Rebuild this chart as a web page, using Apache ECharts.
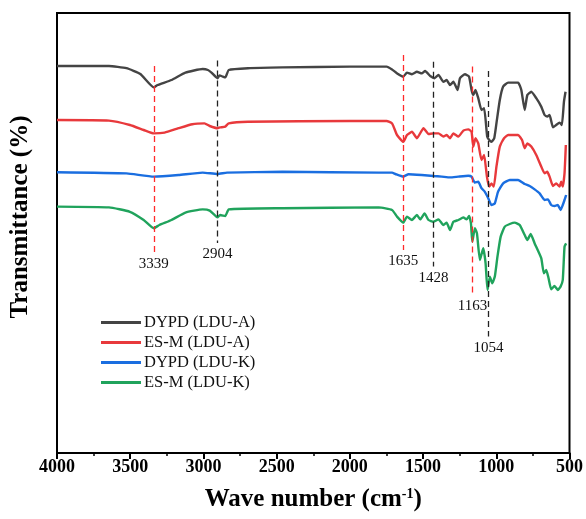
<!DOCTYPE html>
<html>
<head>
<meta charset="utf-8">
<script src="https://cdn.jsdelivr.net/npm/echarts@6/dist/echarts.min.js"></script>
<style>
  html, body { margin: 0; padding: 0; background: #fff; }
  #chart { width: 586px; height: 519px; }
</style>
</head>
<body>
<div id="chart"></div>
<script>
// FTIR spectra: [wavenumber (cm-1), transmittance (offset, a.u.)]
const dypdA = [
  [4000, 96.75], [3800, 96.75], [3645, 96.75], [3526, 96.2], [3431, 94.75], [3339, 91.4],
  [3313, 92.0], [3218, 93.25], [3123, 95.1], [3005, 96.0], [2969, 95.75], [2945, 95.1],
  [2904, 93.7], [2890, 94.4], [2868, 94.1], [2850, 93.9], [2827, 95.75], [2696, 96.2],
  [2460, 96.4], [2000, 96.6], [1803, 96.6], [1749, 96.6], [1712, 95.9], [1677, 94.9],
  [1635, 94.1], [1610, 95.1], [1576, 94.7], [1542, 95.3], [1509, 94.9], [1486, 95.5],
  [1451, 94.25], [1422, 93.7], [1395, 94.5], [1361, 92.8], [1339, 93.25], [1316, 92.0],
  [1293, 92.8], [1264, 90.75], [1248, 93.7], [1214, 94.7], [1186, 94.1], [1169, 90.75],
  [1157, 89.5], [1142, 90.75], [1123, 88.7], [1101, 85.75], [1083, 86.2], [1062, 79.1],
  [1048, 78.25], [1033, 77.8], [1014, 78.7], [999, 82.4], [976, 88.25], [953, 91.6],
  [919, 92.6], [851, 92.6], [829, 90.75], [806, 85.75], [788, 89.5], [761, 90.3],
  [727, 88.7], [693, 86.6], [670, 84.5], [652, 84.1], [636, 84.5], [613, 81.4],
  [591, 82.0], [568, 82.6], [552, 82.0], [538, 87.8], [527, 90.3]
];
const esmA = [
  [4000, 83.25], [3645, 83.1], [3502, 82.0], [3408, 80.75], [3339, 79.9], [3265, 80.1],
  [3170, 81.2], [3076, 82.2], [2993, 82.4], [2957, 81.75], [2904, 81.2], [2886, 81.4],
  [2851, 81.6], [2827, 82.4], [2696, 82.8], [2000, 83.0], [1749, 83.0], [1712, 82.4],
  [1678, 79.5], [1635, 77.8], [1610, 79.5], [1576, 80.3], [1542, 78.7], [1497, 81.2],
  [1463, 79.75], [1429, 79.9], [1395, 79.9], [1361, 79.1], [1339, 79.5], [1316, 78.7],
  [1293, 79.9], [1259, 79.1], [1225, 80.6], [1191, 80.9], [1169, 80.3], [1157, 76.6],
  [1142, 78.7], [1123, 77.4], [1101, 73.25], [1083, 74.5], [1064, 69.1], [1048, 66.6],
  [1033, 67.4], [1017, 66.6], [999, 71.6], [976, 76.6], [947, 78.7], [919, 79.5],
  [851, 79.5], [824, 78.25], [806, 76.2], [788, 77.4], [761, 76.6], [727, 74.5],
  [693, 71.6], [670, 69.9], [652, 70.3], [636, 69.1], [613, 66.75], [591, 67.4],
  [568, 66.6], [557, 67.8], [546, 66.6], [534, 69.9], [525, 77.0]
];
const dypdK = [
  [4000, 70.2], [3526, 69.9], [3339, 69.1], [3170, 69.5], [3005, 70.1], [2904, 69.75],
  [2839, 70.1], [2460, 70.3], [1803, 70.1], [1712, 70.1], [1689, 69.75], [1635, 69.1],
  [1599, 69.7], [1509, 69.5], [1429, 69.25], [1372, 69.1], [1316, 68.9], [1259, 69.1],
  [1191, 69.3], [1169, 69.1], [1146, 67.6], [1123, 67.8], [1101, 66.2], [1078, 65.3],
  [1055, 63.7], [1033, 62.0], [1010, 62.4], [988, 65.3], [953, 67.4], [908, 68.25],
  [851, 68.25], [806, 67.25], [772, 66.75], [738, 65.9], [704, 64.9], [670, 63.25],
  [647, 63.4], [625, 62.0], [602, 61.75], [580, 62.0], [561, 60.75], [546, 62.0],
  [534, 63.25], [523, 64.5]
];
const esmK = [
  [4000, 61.6], [3645, 61.4], [3502, 60.3], [3408, 58.25], [3339, 56.2], [3301, 57.0],
  [3218, 58.25], [3123, 60.1], [3005, 60.9], [2957, 60.6], [2904, 58.9], [2886, 59.5],
  [2851, 59.25], [2827, 60.9], [2460, 61.2], [1803, 61.4], [1712, 60.75], [1678, 59.1],
  [1635, 57.6], [1610, 59.1], [1576, 58.25], [1542, 59.5], [1519, 58.4], [1490, 59.9],
  [1463, 58.25], [1429, 57.8], [1395, 58.4], [1361, 57.0], [1339, 57.6], [1316, 55.75],
  [1293, 57.8], [1259, 58.25], [1225, 58.9], [1203, 58.4], [1186, 59.25], [1173, 57.4],
  [1164, 52.8], [1146, 56.2], [1132, 54.9], [1112, 48.25], [1089, 51.2], [1073, 47.4],
  [1060, 40.75], [1044, 44.1], [1028, 42.4], [1010, 44.1], [992, 49.1], [970, 54.1],
  [942, 56.6], [908, 57.25], [874, 57.6], [840, 57.0], [806, 54.5], [788, 53.25],
  [765, 54.75], [738, 52.4], [693, 48.7], [675, 44.9], [659, 45.75], [643, 43.7],
  [625, 40.9], [602, 41.75], [580, 40.75], [561, 41.6], [546, 43.25], [534, 51.6],
  [523, 52.4]
];

const seriesNames = ['DYPD (LDU-A)', 'ES-M (LDU-A)', 'DYPD (LDU-K)', 'ES-M (LDU-K)'];
const seriesColors = ['#444444', '#e8393c', '#1a6ee0', '#20a35c'];

// Marked bands: wavenumber, guide top/bottom (transmittance units), dash colour
const peakWn = [3339, 2904, 1635, 1428, 1163, 1054];
const peakTop = [96.75, 98.1, 99.5, 97.8, 96.6, 95.5];
const peakBottom = [50, 52.5, 50.75, 46.6, 39.5, 29.1];
const peakColors = ['#ff2a2a', '#222222', '#ff2a2a', '#222222', '#ff2a2a', '#222222'];

const xTicks = [4000, 3500, 3000, 2500, 2000, 1500, 1000, 500];
const yTitle = 'Transmittance (%)';

const FONT = '"Liberation Serif", "Times New Roman", serif';

const chart = echarts.init(document.getElementById('chart'), null, { renderer: 'canvas' });

const spectra = [dypdA, esmA, dypdK, esmK].map((d, i) => ({
  name: seriesNames[i],
  type: 'line',
  data: d,
  symbol: 'none',
  smooth: 0.15,
  lineStyle: { color: seriesColors[i], width: 2.4 },
  itemStyle: { color: seriesColors[i] },
  z: 3
}));

const guides = {
  name: 'guides',
  type: 'line',
  data: [],
  silent: true,
  z: 2,
  markLine: {
    silent: true,
    symbol: ['none', 'none'],
    animation: false,
    data: peakWn.map((wn, i) => [
      {
        coord: [wn, peakTop[i]],
        lineStyle: { color: peakColors[i], type: [6, 4], width: 1.3 },
        label: {
          show: true, position: 'end', distance: 4, formatter: String(wn),
          color: '#111', fontFamily: FONT, fontSize: 15
        }
      },
      { coord: [wn, peakBottom[i]] }
    ])
  }
};

chart.setOption({
  animation: false,
  backgroundColor: '#fff',
  grid: {
    left: 57, right: 14, top: 13, bottom: 66,
    show: true, borderColor: '#000', borderWidth: 2, backgroundColor: 'transparent'
  },
  graphic: [{
    type: 'text',
    x: 21, y: 217,
    rotation: Math.PI / 2,
    style: {
      text: yTitle,
      fontFamily: FONT, fontSize: 25, fontWeight: 'bold', fill: '#000',
      align: 'center', verticalAlign: 'middle'
    }
  }],
  legend: {
    data: seriesNames,
    orient: 'vertical',
    left: 96, top: 309,
    itemWidth: 40, itemHeight: 3, itemGap: 3,
    icon: 'rect',
    textStyle: { fontFamily: FONT, fontSize: 16.5, color: '#111', lineHeight: 16, padding: [0, 0, 0, -2] }
  },
  xAxis: {
    type: 'value',
    inverse: true,
    min: 500, max: 4000, interval: 500,
    name: 'Wave number (cm{sup|-1})',
    nameLocation: 'middle',
    nameGap: 34,
    nameTextStyle: {
      fontFamily: FONT, fontSize: 25, fontWeight: 'bold', color: '#000',
      rich: { sup: { fontFamily: FONT, fontSize: 14, fontWeight: 'bold', verticalAlign: 'top', padding: [0, 0, 12, 0] } }
    },
    axisLine: { show: true, lineStyle: { color: '#000', width: 2 } },
    axisTick: { show: true, inside: false, length: 6, lineStyle: { color: '#000', width: 2 } },
    minorTick: { show: true, splitNumber: 2, length: 3, lineStyle: { color: '#000', width: 1.5 } },
    splitLine: { show: false },
    axisLabel: {
      fontFamily: FONT, fontSize: 18, fontWeight: 'bold', color: '#000', margin: 5,
      formatter: v => (xTicks.includes(v) ? String(v) : '')
    }
  },
  yAxis: {
    type: 'value',
    min: 0, max: 110,
    axisLine: { show: true, lineStyle: { color: '#000', width: 2 } },
    axisTick: { show: false },
    axisLabel: { show: false },
    splitLine: { show: false }
  },
  series: [...spectra, guides]
});
</script>
</body>
</html>
